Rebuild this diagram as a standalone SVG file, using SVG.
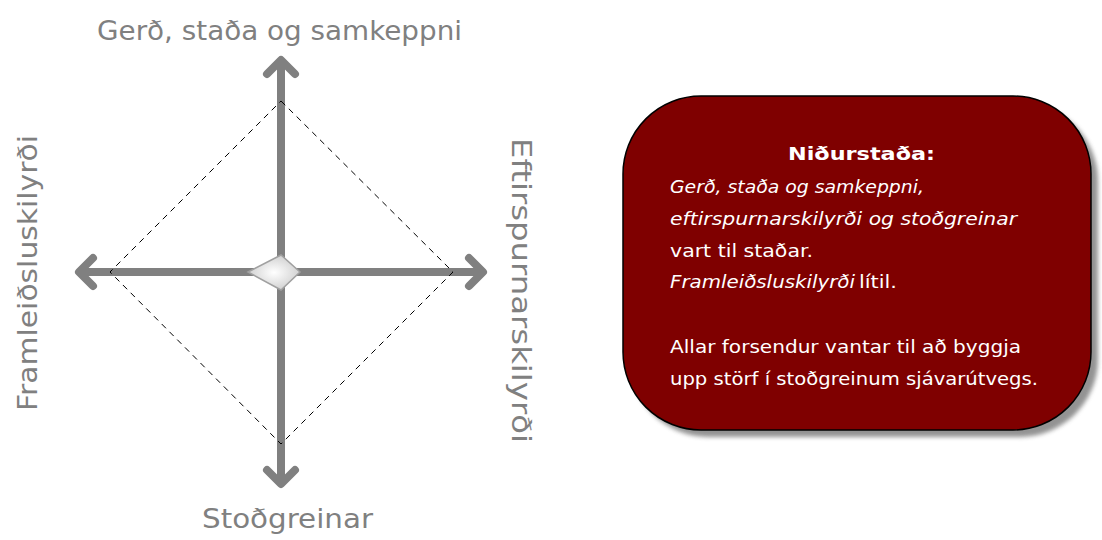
<svg xmlns="http://www.w3.org/2000/svg" width="1102" height="540" viewBox="0 0 1102 540">
<style>
.axis{stroke:#808080;stroke-width:8;stroke-linecap:round;stroke-linejoin:round;fill:none}
.lbl{font-family:"DejaVu Sans","Liberation Sans",sans-serif;font-size:26px;fill:#808080}
.box{font-family:"DejaVu Sans","Liberation Sans",sans-serif;font-size:18px;fill:#ffffff}
.it{font-style:italic}
</style>
<defs>
<radialGradient id="g" cx="0.5" cy="0.5" r="0.6">
<stop offset="0" stop-color="#ffffff"/>
<stop offset="1" stop-color="#c8c8c8"/>
</radialGradient>
<filter id="blur" x="-5%" y="-5%" width="110%" height="110%"><feGaussianBlur stdDeviation="2"/></filter>
</defs>
<g id="connectors">
<line class="axis" x1="281" y1="62" x2="281" y2="481"/>
<line class="axis" x1="81" y1="272" x2="481" y2="272"/>
<polyline class="axis" points="267,74 281,60 295,74"/>
<polyline class="axis" points="267,470 281,484 295,470"/>
<polyline class="axis" points="93,258 79,272 93,286"/>
<polyline class="axis" points="469,258 483,272 469,286"/>
<polygon points="281,101 453,272 281,444 110,272" fill="none" stroke="#000" stroke-width="1" stroke-dasharray="6,5"/>
</g>
<g id="center">
<polygon points="248,272 281,255 300,272 281,290" fill="url(#g)" stroke="#a0a0a0" stroke-width="1.5"/>
</g>
<g id="label-top"><text class="lbl" x="97" y="40" textLength="365" lengthAdjust="spacingAndGlyphs">Gerð, staða og samkeppni</text></g>
<g id="label-bottom"><text class="lbl" x="202" y="528" textLength="171" lengthAdjust="spacingAndGlyphs">Stoðgreinar</text></g>
<g id="label-left"><text class="lbl" transform="translate(37,411) rotate(-90)" textLength="276" lengthAdjust="spacingAndGlyphs">Framleiðsluskilyrði</text></g>
<g id="label-right"><text class="lbl" transform="translate(512,138) rotate(90)" textLength="305" lengthAdjust="spacingAndGlyphs">Eftirspurnarskilyrði</text></g>
<g id="result">
<rect x="630" y="103" width="468" height="334" rx="78" fill="#707070" opacity="0.75" filter="url(#blur)"/>
<rect x="623" y="96" width="468" height="334" rx="78" fill="#7f0000" stroke="#000" stroke-width="1.5"/>
<text class="box" x="788" y="160" font-weight="bold" font-size="19" textLength="147" lengthAdjust="spacingAndGlyphs">Niðurstaða:</text>
<text class="box it" x="670" y="193" textLength="254" lengthAdjust="spacingAndGlyphs">Gerð, staða og samkeppni,</text>
<text class="box it" x="670" y="225" textLength="347" lengthAdjust="spacingAndGlyphs">eftirspurnarskilyrði og stoðgreinar</text>
<text class="box" x="670" y="257" textLength="143" lengthAdjust="spacingAndGlyphs">vart til staðar.</text>
<text class="box it" x="670" y="288" textLength="185" lengthAdjust="spacingAndGlyphs">Framleiðsluskilyrði</text>
<text class="box" x="859" y="288" textLength="38" lengthAdjust="spacingAndGlyphs">lítil.</text>
<text class="box" x="670" y="353" textLength="351" lengthAdjust="spacingAndGlyphs">Allar forsendur vantar til að byggja</text>
<text class="box" x="670" y="385" textLength="368" lengthAdjust="spacingAndGlyphs">upp störf í stoðgreinum sjávarútvegs.</text>
</g>
</svg>
